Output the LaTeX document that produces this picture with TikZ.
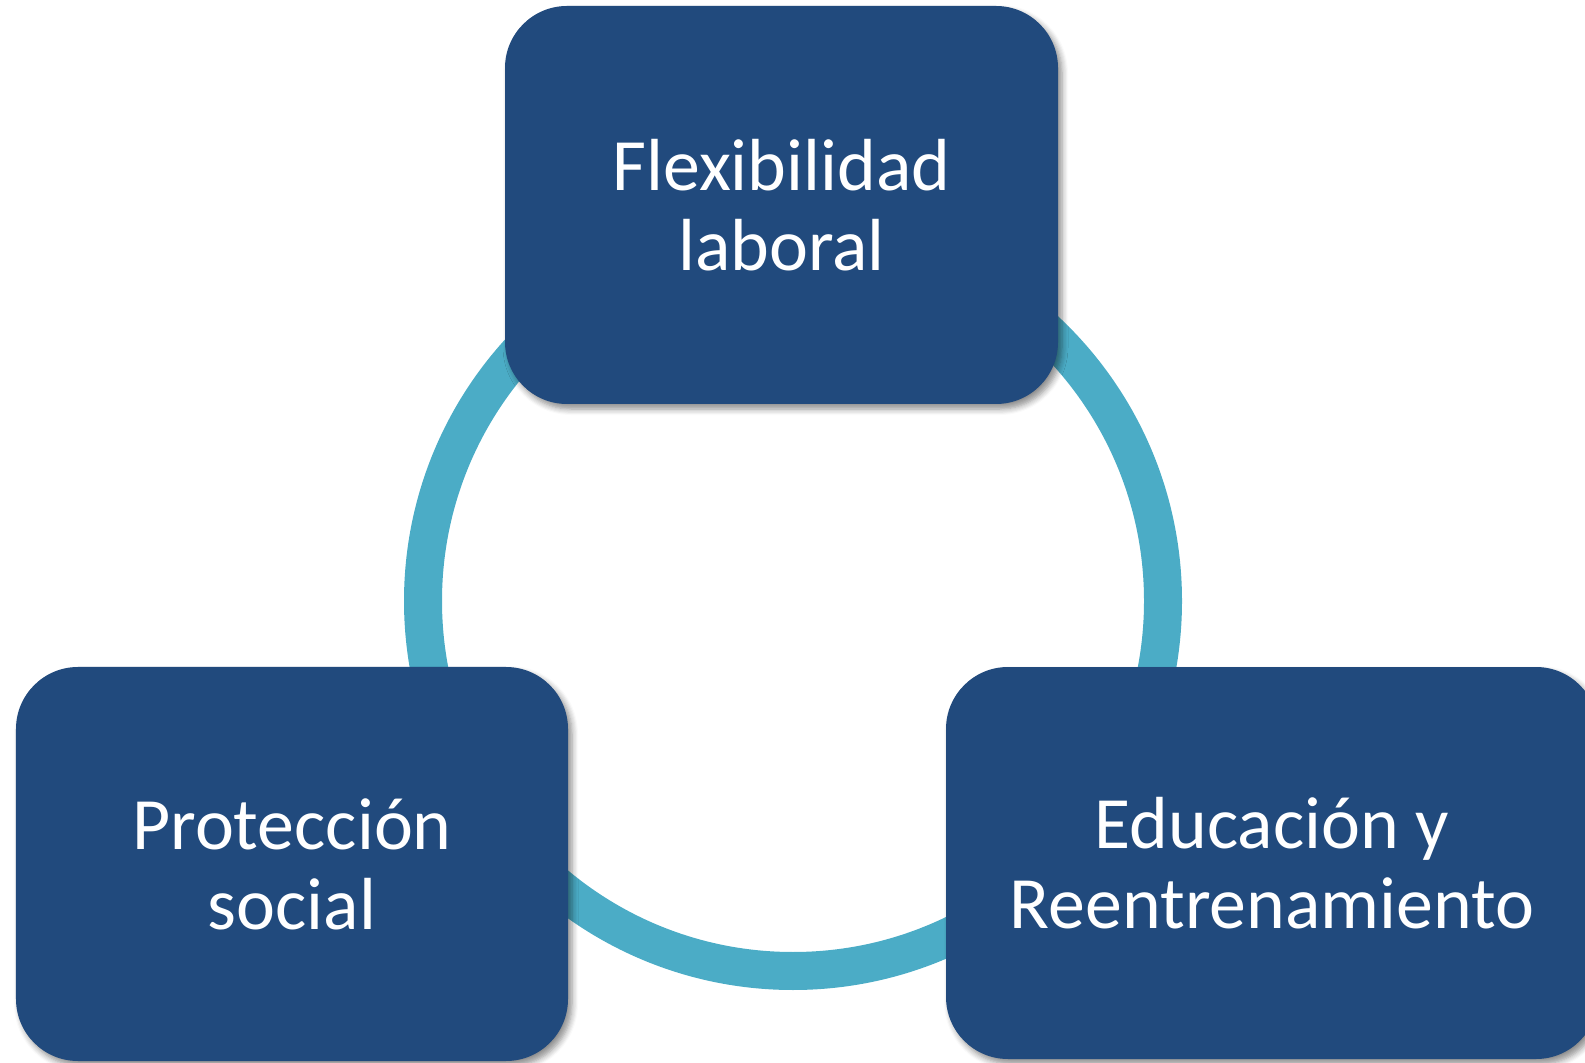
\documentclass[tikz,border=0pt]{standalone}
\usepackage{fontspec}
\setmainfont{Carlito}
\usetikzlibrary{shadows.blur}

\definecolor{boxblue}{RGB}{33,74,125}
\definecolor{ringteal}{RGB}{75,172,198}

\def\ringcircle{(7.93,-6.01) circle (3.70cm)}

\tikzset{
  pillar/.style={rounded corners=0.62cm, fill=boxblue, text=white, align=center,
    inner sep=0pt, font=\fontsize{21}{22.8}\selectfont,
    blur shadow={shadow xshift=0.04cm, shadow yshift=-0.05cm,
      shadow blur radius=0.06cm, shadow blur steps=6, shadow opacity=45}}
}

\begin{document}
\begin{tikzpicture}
    \useasboundingbox (0,0) rectangle (15.85,-10.63);

    \draw[ringteal, line width=0.38cm] \ringcircle;

    \node[pillar, minimum width=5.53cm, minimum height=3.98cm] (flex) at (7.815,-2.05)
      {Flexibilidad\\laboral};
    \node[pillar, minimum width=5.52cm, minimum height=3.94cm] (prot) at (2.92,-8.64)
      {Protección\\social};
    \node[pillar, minimum width=6.52cm, minimum height=3.92cm] (educ) at (12.72,-8.63)
      {Educación y\\Reentrenamiento};

  \end{tikzpicture}
\end{document}
